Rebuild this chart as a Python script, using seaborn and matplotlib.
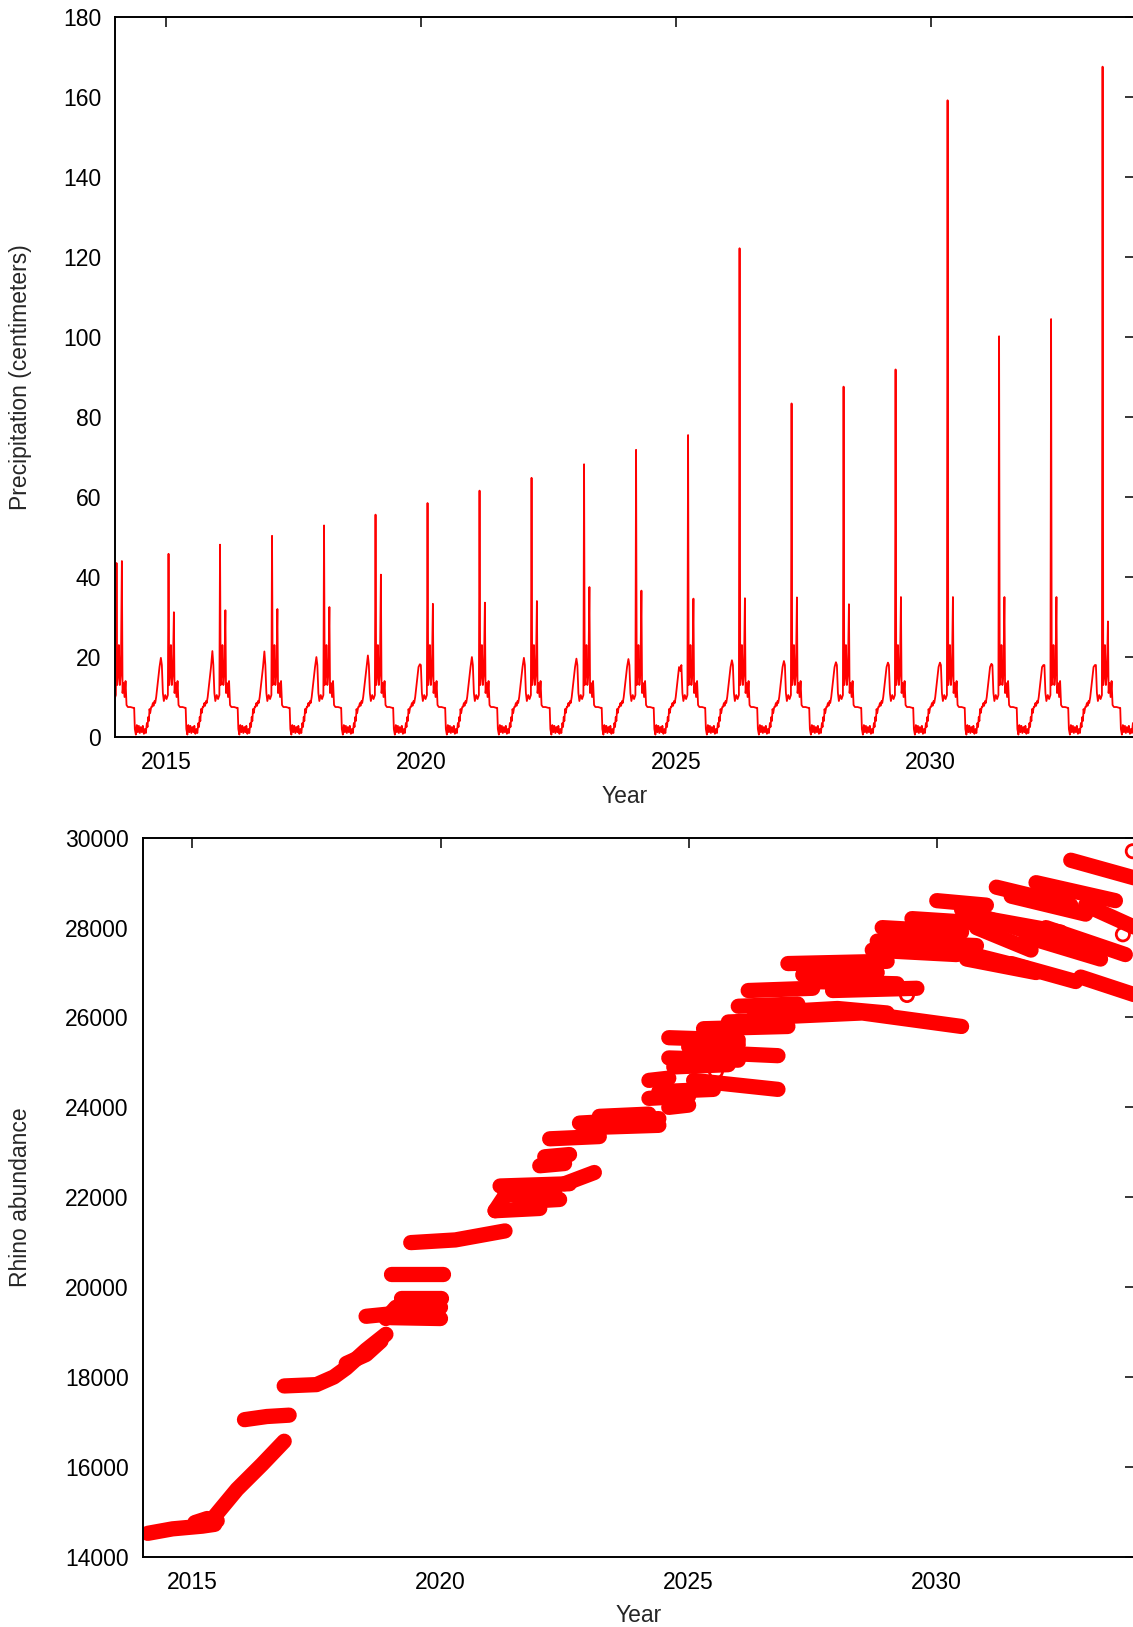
import numpy as np
import pandas as pd
import seaborn as sns
import matplotlib
matplotlib.use("Agg")
import matplotlib.pyplot as plt

sns.set_style("white")
plt.rcParams['font.family'] = ['Liberation Sans', 'DejaVu Sans']

red = '#ff0000'

# ---------------- precipitation (top panel) ----------------
# year of the big wet-season spike of each cycle
spike_year = [2014.03, 2015.05, 2016.06, 2017.08, 2018.10, 2019.11, 2020.13, 2021.15, 2022.17, 2023.20,
              2024.22, 2025.24, 2026.25, 2027.27, 2028.29, 2029.31, 2030.33, 2031.34, 2032.36, 2033.37]
spike_val = [43.5, 45.8, 48.1, 50.3, 52.9, 55.6, 58.5, 61.6, 64.8, 68.2,
             71.8, 75.5, 122.2, 83.4, 87.6, 91.9, 159.2, 100.2, 104.5, 167.6]
second_val = [44.0, 31.2, 31.7, 32.0, 32.5, 40.6, 33.3, 33.6, 34.0, 37.5,
              36.6, 34.6, 34.7, 34.9, 33.2, 35.0, 35.0, 35.0, 35.0, 28.9]
bump_val = [20.0, 19.8, 21.5, 21.4, 20.0, 20.4, 18.2, 20.0, 19.8, 19.6,
            19.5, 16.5, 19.2, 19.0, 18.7, 18.6, 18.6, 18.3, 18.0, 18.0]
season_dt = [-0.674, -0.661, -0.641, -0.622, -0.602, -0.582, -0.563, -0.543, -0.523, -0.504,
             -0.484, -0.464, -0.445, -0.425, -0.412, -0.399, -0.386, -0.373, -0.360, -0.340,
             -0.327, -0.307, -0.294, -0.275, -0.262, -0.242, -0.229, -0.203, -0.177, -0.150,
             -0.131, -0.111, -0.092, -0.065, -0.039, -0.013]
season_v = [7.3, 2.0, 0.6, 3.0, 1.2, 2.8, 1.0, 2.5, 1.2, 2.8,
            0.8, 2.0, 1.0, 3.5, 2.5, 5.0, 4.0, 7.0, 6.0, 7.5,
            7.5, 8.5, 7.8, 9.0, 8.5, 10.0, 11.5, 14.5, 17.5, None,
            18.0, 11.0, 9.0, 10.5, 9.5, 10.5]
after_dt = [0.013, 0.033, 0.046, 0.065, 0.085, 0.105, 0.118, 0.137, 0.157, 0.177, 0.196, 0.222, 0.275, 0.327]
after_v = [13.0, 16.0, 23.0, 13.0, 16.0, None, 11.0, 13.5, 10.0, 14.0, 8.0, 7.5, 7.5, 7.3]

rows = []
for t0, sp, s2, bp in zip(spike_year, spike_val, second_val, bump_val):
    for dt, v in zip(season_dt, season_v):
        rows.append((t0 + dt, bp if v is None else v))
    rows.append((t0, sp))
    for dt, v in zip(after_dt, after_v):
        rows.append((t0 + dt, s2 if v is None else v))
# dry season running past the last spike
for dt, v in zip(season_dt[:26], season_v[:26]):
    rows.append((2034.39 + dt, v))
precip = pd.DataFrame(rows, columns=['year', 'precip'])

# ---------------- rhino abundance (bottom panel) ----------------
# each run of overlapping circles: (years, abundance)
runs = [
    ([2014.10, 2014.60, 2015.20, 2015.45], [14520, 14620, 14680, 14720]),
    ([2015.05, 2015.30, 2015.50], [14760, 14850, 14800]),
    ([2015.45, 2015.90, 2016.40, 2016.85], [14900, 15500, 16050, 16570]),
    ([2016.05, 2016.50, 2016.95], [17050, 17120, 17150]),
    ([2016.85, 2017.50, 2017.85, 2018.10, 2018.50, 2018.90], [17800, 17830, 18000, 18200, 18600, 18950]),
    ([2018.10, 2018.50, 2018.80], [18300, 18500, 18800]),
    ([2018.50, 2018.95], [19350, 19400]),
    ([2018.90, 2019.10, 2020.00], [19300, 19550, 19550]),
    ([2019.00, 2020.00], [19320, 19300]),
    ([2019.20, 2020.00], [19750, 19750]),
    ([2019.00, 2020.05], [20300, 20300]),
    ([2019.40, 2020.30, 2021.30], [20990, 21050, 21250]),
    ([2021.10, 2021.40], [21700, 22200]),
    ([2021.20, 2022.60], [22250, 22300]),
    ([2021.60, 2022.40], [21900, 21950]),
    ([2021.10, 2022.00], [21700, 21750]),
    ([2021.30, 2022.30], [22050, 22100]),
    ([2022.00, 2022.50], [22700, 22750]),
    ([2022.10, 2022.60], [22900, 22950]),
    ([2022.20, 2023.20], [23300, 23350]),
    ([2022.50, 2023.10], [22300, 22550]),
    ([2022.80, 2024.40], [23650, 23750]),
    ([2023.00, 2024.40], [23550, 23600]),
    ([2023.20, 2024.20], [23800, 23850]),
    ([2024.20, 2024.60], [24600, 24650]),
    ([2024.20, 2025.00], [24200, 24250]),
    ([2024.60, 2025.00], [24000, 24050]),
    ([2024.40, 2025.50], [24350, 24400]),
    ([2024.60, 2026.00], [25550, 25500]),
    ([2024.60, 2026.00], [25100, 25050]),
    ([2024.70, 2025.80], [24900, 24950]),
    ([2025.00, 2026.00], [25350, 25400]),
    ([2025.10, 2026.80], [24600, 24400]),
    ([2025.30, 2027.00], [25750, 25800]),
    ([2025.80, 2027.00], [25900, 25950]),
    ([2025.80, 2026.80], [25200, 25150]),
    ([2026.20, 2027.50], [26600, 26650]),
    ([2026.00, 2027.20], [26250, 26300]),
    ([2026.40, 2028.00, 2029.00], [26100, 26200, 26100]),
    ([2026.50, 2028.50, 2030.50], [26000, 26100, 25800]),
    ([2027.00, 2029.00], [27200, 27250]),
    ([2027.30, 2028.80], [26950, 27000]),
    ([2027.50, 2029.20], [26800, 26750]),
    ([2027.90, 2029.60], [26600, 26650]),
    ([2028.90, 2030.50], [28000, 27900]),
    ([2028.80, 2030.80], [27700, 27600]),
    ([2028.70, 2030.40], [27500, 27400]),
    ([2029.50, 2030.90], [28200, 28100]),
    ([2030.00, 2031.00], [28600, 28500]),
    ([2030.00, 2031.80], [27600, 27100]),
    ([2030.60, 2032.00], [27300, 27000]),
    ([2030.50, 2032.40], [28400, 27700]),
    ([2030.80, 2031.90], [28000, 27500]),
    ([2031.00, 2032.50], [28200, 27900]),
    ([2031.20, 2032.70], [28900, 28500]),
    ([2031.50, 2033.00], [28700, 28300]),
    ([2031.50, 2032.80], [27200, 26800]),
    ([2031.80, 2033.30], [27800, 27300]),
    ([2032.00, 2033.60], [29000, 28600]),
    ([2032.20, 2033.80], [28000, 27400]),
    ([2032.70, 2034.00], [29500, 29100]),
    ([2032.90, 2034.00], [26900, 26500]),
    ([2033.00, 2034.00], [28500, 28000]),
]
run_rows = []
for i, (xs, ys) in enumerate(runs):
    for x, y in zip(xs, ys):
        run_rows.append((i, x, y))
rhino = pd.DataFrame(run_rows, columns=['run', 'year', 'abundance'])

stray_year = [2026.30, 2025.55, 2029.40, 2033.75, 2033.95]
stray_val = [26200, 24800, 26500, 27850, 29700]

# ---------------- figure ----------------
fig = plt.figure(figsize=(11.33, 16.27), dpi=100)
ax1 = fig.add_axes([0.1015, 0.547, 0.9, 0.4425])
ax2 = fig.add_axes([0.126, 0.0432, 0.876, 0.4419])

sns.lineplot(data=precip, x='year', y='precip', ax=ax1, color=red, lw=1.3, sort=False, estimator=None)
ax1.set_xlim(2014, 2034)
ax1.set_ylim(0, 180)
ax1.set_yticks(range(0, 181, 20))
ax1.set_xticks([2015, 2020, 2025, 2030])
ax1.set_xlabel('Year')
ax1.set_ylabel('Precipitation (centimeters)')

sns.lineplot(data=rhino, x='year', y='abundance', units='run', estimator=None, sort=False,
             ax=ax2, color=red, lw=11, solid_capstyle='round')
sns.scatterplot(x=stray_year, y=stray_val, ax=ax2, marker='o', s=90, facecolor='none',
                edgecolor=red, linewidth=2)
ax2.set_xlim(2014, 2034)
ax2.set_ylim(14000, 30000)
ax2.set_yticks(range(14000, 30001, 2000))
ax2.set_xticks([2015, 2020, 2025, 2030])
ax2.set_xlabel('Year')
ax2.set_ylabel('Rhino abundance')

for ax, lx in ((ax1, -0.0815), (ax2, -0.1118)):
    ax.tick_params(direction='in', length=7, width=1.1, labelsize=16.5, pad=10,
                   top=True, right=True, colors='black')
    for s in ax.spines.values():
        s.set_linewidth(1.4)
        s.set_color('black')
    ax.xaxis.label.set_size(16.5)
    ax.yaxis.label.set_size(16.5)
    ax.yaxis.set_label_coords(lx, 0.5)
    ax.xaxis.set_label_coords(0.5, -0.066)

fig.savefig('out.png', dpi=100)
